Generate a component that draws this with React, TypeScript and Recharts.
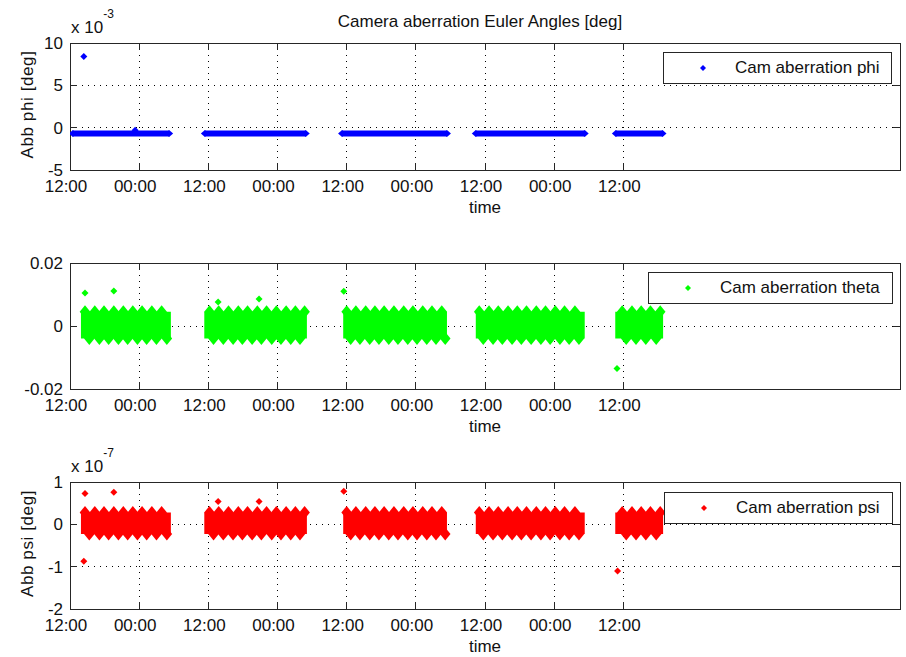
import React from 'react';
import { ComposedChart, Line, Area, Scatter, XAxis, YAxis, CartesianGrid, Legend, ReferenceArea } from 'recharts';

const FONT = '"Liberation Sans", Arial, Helvetica, sans-serif';
const AXIS = '#262626';
const TICK = 7;

// time axis, in hours after the first 12:00 tick
const timeTicks = [0, 12, 24, 36, 48, 60, 72, 84, 96];
const timeTickLabels = ['12:00', '00:00', '12:00', '00:00', '12:00', '00:00', '12:00', '00:00', '12:00'];
const timeDomain: [number, number] = [0, 144];

// phi, in units of 1e-3 deg
const phiTicks = [-5, 0, 5, 10];
const phiTickLabels = ['-5', '0', '5', '10'];
const phiPassStart = [0.5, 23.4, 47.2, 70.4, 94.7];
const phiPassEnd = [17.2, 40.9, 65.4, 89.3, 102.8];
const phiPassLevel = [-0.7, -0.7, -0.7, -0.7, -0.7];
const phiSpikeT = [2.4, 11.3];
const phiSpikeV = [8.4, -0.3];

// theta, in deg
const thetaTicks = [-0.02, 0, 0.02];
const thetaTickLabels = ['-0.02', '0', '0.02'];
const thetaPassStart = [1.9, 23.3, 47.4, 70.4, 94.6];
const thetaPassEnd = [17.5, 41.1, 65.4, 89.3, 102.9];
const thetaHigh = [0.0045, 0.0045, 0.0045, 0.0045, 0.0045];
const thetaLow = [-0.004, -0.004, -0.004, -0.004, -0.004];
const thetaSpikeT = [2.6, 7.6, 25.7, 32.8, 47.5, 94.9];
const thetaSpikeV = [0.0105, 0.0111, 0.0076, 0.0086, 0.011, -0.0135];

// psi, in units of 1e-7 deg
const psiTicks = [-2, -1, 0, 1];
const psiTickLabels = ['-2', '-1', '0', '1'];
const psiPassStart = [1.9, 23.3, 47.4, 70.4, 94.6];
const psiPassEnd = [17.5, 41.1, 65.4, 89.3, 102.9];
const psiHigh = [0.28, 0.28, 0.28, 0.28, 0.28];
const psiLow = [-0.23, -0.23, -0.23, -0.23, -0.23];
const psiSpikeT = [2.6, 7.6, 2.4, 25.7, 32.8, 47.5, 95.0];
const psiSpikeV = [0.73, 0.76, -0.87, 0.54, 0.54, 0.78, -1.1];

// orbit crests / troughs seen on the theta and psi bands (hours)
const crestT = [
  2.6, 4.3, 5.9, 7.6, 9.25, 10.9, 12.5, 14.2, 15.9,
  24.2, 25.8, 27.5, 29.2, 30.8, 32.5, 34.1, 35.8, 37.5, 39.1, 40.7,
  48.0, 49.6, 51.3, 52.9, 54.5, 56.2, 57.9, 59.5, 61.2, 62.8, 64.5,
  71.0, 72.7, 74.3, 76.0, 77.6, 79.2, 80.9, 82.5, 84.2, 85.8, 87.6,
  95.8, 97.5, 99.1, 100.7, 102.4,
];
const troughT = [
  3.35, 5.1, 6.7, 8.4, 10.0, 11.7, 13.3, 15.0, 16.8,
  24.9, 26.6, 28.3, 29.9, 31.6, 33.2, 35.0, 36.6, 38.3, 39.9,
  48.7, 50.3, 52.0, 53.6, 55.3, 56.9, 58.6, 60.2, 61.9, 63.5, 65.1,
  71.7, 73.4, 75.0, 76.7, 78.3, 80.0, 81.7, 83.3, 85.0, 86.6, 88.3,
  96.5, 98.2, 99.9, 101.7,
];

const passOf = (t: number, start: number[], end: number[]) => {
  const i = start.findIndex((s, k) => t >= s - 0.5 && t <= end[k] + 0.5);
  return i < 0 ? 0 : i;
};

const lineRows = (start: number[], end: number[], level: number[]) =>
  start.flatMap((s, i) => [
    { t: s, v: level[i] },
    { t: end[i], v: level[i] },
    { t: end[i] + 1, v: null },
  ]);

const bandRows = (start: number[], end: number[], lo: number[], hi: number[]) =>
  start.flatMap((s, i) => [
    { t: s, band: [lo[i], hi[i]] },
    { t: end[i], band: [lo[i], hi[i]] },
    { t: end[i] + 1, band: null },
  ]);

const points = (ts: number[], vs: number[]) => ts.map((t, i) => ({ t, v: vs[i] }));

const phiRows = lineRows(phiPassStart, phiPassEnd, phiPassLevel);
const phiSpikes = points(phiSpikeT, phiSpikeV);

const thetaRows = bandRows(thetaPassStart, thetaPassEnd, thetaLow, thetaHigh);
const thetaCrests = crestT.map((t) => ({ t, v: thetaHigh[passOf(t, thetaPassStart, thetaPassEnd)] }));
const thetaTroughs = troughT.map((t) => ({ t, v: thetaLow[passOf(t, thetaPassStart, thetaPassEnd)] }));
const thetaSpikes = points(thetaSpikeT, thetaSpikeV);

const psiRows = bandRows(psiPassStart, psiPassEnd, psiLow, psiHigh);
const psiCrests = crestT.map((t) => ({ t, v: psiHigh[passOf(t, psiPassStart, psiPassEnd)] }));
const psiTroughs = troughT.map((t) => ({ t, v: psiLow[passOf(t, psiPassStart, psiPassEnd)] }));
const psiSpikes = points(psiSpikeT, psiSpikeV);

const diamond = (hw: number, hh: number, color: string) => (props: any) => {
  const { cx, cy } = props;
  if (cx == null || cy == null || isNaN(cy)) return <g />;
  return (
    <polygon
      points={`${cx},${cy - hh} ${cx + hw},${cy} ${cx},${cy + hh} ${cx - hw},${cy}`}
      fill={color}
    />
  );
};

const BottomTick = (props: any) => {
  const { x, y, payload } = props;
  const label = timeTickLabels[timeTicks.indexOf(payload.value)];
  return (
    <g>
      <line x1={x} y1={y} x2={x} y2={y - TICK} stroke={AXIS} shapeRendering="crispEdges" />
      <text x={x - 4} y={y + 22} textAnchor="middle" fontSize={17} fontFamily={FONT} fill="#111">
        {label}
      </text>
    </g>
  );
};

const TopTick = (props: any) => {
  const { x, y } = props;
  return <line x1={x} y1={y} x2={x} y2={y + TICK} stroke={AXIS} shapeRendering="crispEdges" />;
};

const RightTick = (props: any) => {
  const { x, y } = props;
  return <line x1={x} y1={y} x2={x - TICK} y2={y} stroke={AXIS} shapeRendering="crispEdges" />;
};

const leftTick = (ticks: number[], labels: string[]) => (props: any) => {
  const { x, y, payload } = props;
  return (
    <g>
      <line x1={x} y1={y} x2={x + TICK} y2={y} stroke={AXIS} shapeRendering="crispEdges" />
      <text x={x - 7} y={y + 6} textAnchor="end" fontSize={17} fontFamily={FONT} fill="#111">
        {labels[ticks.indexOf(payload.value)]}
      </text>
    </g>
  );
};

const legendBox = (label: string, color: string) => () => (
  <div
    style={{
      boxSizing: 'border-box',
      height: 32,
      border: `1px solid ${AXIS}`,
      background: '#fff',
      position: 'relative',
      fontFamily: FONT,
      fontSize: 17,
      color: '#111',
    }}
  >
    <svg width={10} height={10} style={{ position: 'absolute', left: 34, top: 10 }}>
      <polygon points="5,2 8,5 5,8 2,5" fill={color} />
    </svg>
    <span style={{ position: 'absolute', left: 71, top: 6, lineHeight: '18px', whiteSpace: 'nowrap' }}>{label}</span>
  </div>
);

type PanelProps = {
  top: number;
  height: number;
  marginTop: number;
  axisHeight: number;
  data: any[];
  yDomain: [number, number];
  yTicks: number[];
  yTickLabels: string[];
  yLabel?: string;
  exponent?: string;
  title?: string;
  legendLabel: string;
  legendColor: string;
  legendLeft: number;
  legendWidth: number;
  children: React.ReactNode;
};

function Panel(p: PanelProps) {
  const topLabel = (props: any) => {
    const vb = props.viewBox;
    const y0 = vb.y + vb.height;
    return (
      <g fontFamily={FONT} fill="#111">
        {p.title && (
          <text x={vb.x + vb.width / 2 - 5} y={y0 - 16} textAnchor="middle" fontSize={17}>
            {p.title}
          </text>
        )}
        {p.exponent && (
          <text x={vb.x + 1} y={y0 - 10} fontSize={17}>
            x 10
            <tspan dy={-15} fontSize={12}>
              {p.exponent}
            </tspan>
          </text>
        )}
      </g>
    );
  };
  const timeLabel = (props: any) => {
    const vb = props.viewBox;
    return (
      <text x={vb.x + vb.width / 2} y={vb.y + 43} textAnchor="middle" fontSize={17} fontFamily={FONT} fill="#111">
        time
      </text>
    );
  };
  const yLabel = (props: any) => {
    const vb = props.viewBox;
    if (!p.yLabel) return <g />;
    const cy = vb.y + vb.height / 2 - 2;
    return (
      <text
        x={33}
        y={cy}
        transform={`rotate(-90, 33, ${cy})`}
        textAnchor="middle"
        fontSize={17}
        letterSpacing={0.6}
        fontFamily={FONT}
        fill="#111"
      >
        {p.yLabel}
      </text>
    );
  };

  const axisLine = { stroke: AXIS, strokeWidth: 1, shapeRendering: 'crispEdges' };

  return (
    <div style={{ position: 'absolute', left: 0, top: p.top }}>
      <ComposedChart
        width={906}
        height={p.height}
        data={p.data}
        margin={{ top: p.marginTop - 1, right: 5, bottom: 0, left: 0 }}
      >
        <CartesianGrid stroke="#000" strokeDasharray="1 5" shapeRendering="crispEdges" />
        <ReferenceArea
          x1={timeDomain[0]}
          x2={timeDomain[1]}
          y1={p.yDomain[0]}
          y2={p.yDomain[1]}
          ifOverflow="visible"
          stroke={AXIS}
          strokeWidth={1}
          fill="none"
          fillOpacity={0}
          shapeRendering="crispEdges"
        />
        <XAxis
          dataKey="t"
          type="number"
          domain={timeDomain}
          ticks={timeTicks}
          interval={0}
          allowDataOverflow
          height={p.axisHeight}
          tickSize={0}
          tickMargin={0}
          tickLine={false}
          axisLine={axisLine}
          tick={BottomTick}
          label={{ content: timeLabel }}
        />
        <XAxis
          xAxisId="top"
          orientation="top"
          dataKey="t"
          type="number"
          domain={timeDomain}
          ticks={timeTicks}
          interval={0}
          allowDataOverflow
          height={1}
          tickSize={0}
          tickMargin={0}
          tickLine={false}
          axisLine={axisLine}
          tick={TopTick}
          label={{ content: topLabel }}
        />
        <YAxis
          type="number"
          domain={p.yDomain}
          ticks={p.yTicks}
          interval={0}
          allowDataOverflow
          width={70}
          tickSize={0}
          tickMargin={0}
          tickLine={false}
          axisLine={axisLine}
          tick={leftTick(p.yTicks, p.yTickLabels)}
          label={{ content: yLabel }}
        />
        <YAxis
          yAxisId="right"
          orientation="right"
          type="number"
          domain={p.yDomain}
          ticks={p.yTicks}
          interval={0}
          allowDataOverflow
          width={1}
          tickSize={0}
          tickMargin={0}
          tickLine={false}
          axisLine={axisLine}
          tick={RightTick}
        />
        {p.children}
        <Legend
          layout="horizontal"
          verticalAlign="middle"
          align="center"
          content={legendBox(p.legendLabel, p.legendColor)}
          wrapperStyle={{ position: 'absolute', left: p.legendLeft, top: 52, width: p.legendWidth, height: 32 }}
        />
      </ComposedChart>
    </div>
  );
}

export default function App() {
  return (
    <div style={{ position: 'absolute', left: 0, top: 0, width: 906, height: 657, background: '#fff' }}>
      <Panel
        top={0}
        height={220}
        marginTop={43}
        axisHeight={50}
        data={phiRows}
        yDomain={[-5, 10]}
        yTicks={phiTicks}
        yTickLabels={phiTickLabels}
        yLabel="Abb phi [deg]"
        exponent="-3"
        title="Camera aberration Euler Angles [deg]"
        legendLabel="Cam aberration phi"
        legendColor="#0000ff"
        legendLeft={663}
        legendWidth={229}
      >
        <Line
          dataKey="v"
          stroke="#0000ff"
          strokeWidth={6}
          dot={diamond(4, 3.5, '#0000ff')}
          activeDot={false}
          connectNulls={false}
          isAnimationActive={false}
          legendType="none"
        />
        <Scatter data={phiSpikes} dataKey="v" shape={diamond(3.5, 3.5, '#0000ff')} isAnimationActive={false} legendType="none" />
      </Panel>
      <Panel
        top={220}
        height={220}
        marginTop={43}
        axisHeight={51}
        data={thetaRows}
        yDomain={[-0.02, 0.02]}
        yTicks={thetaTicks}
        yTickLabels={thetaTickLabels}
        legendLabel="Cam aberration theta"
        legendColor="#00ff00"
        legendLeft={648}
        legendWidth={245}
      >
        <Area
          dataKey="band"
          stroke="none"
          fill="#00ff00"
          fillOpacity={1}
          connectNulls={false}
          dot={false}
          activeDot={false}
          isAnimationActive={false}
          legendType="none"
        />
        <Scatter data={thetaCrests} dataKey="v" shape={diamond(5.3, 6.5, '#00ff00')} isAnimationActive={false} legendType="none" />
        <Scatter data={thetaTroughs} dataKey="v" shape={diamond(5.3, 6.5, '#00ff00')} isAnimationActive={false} legendType="none" />
        <Scatter data={thetaSpikes} dataKey="v" shape={diamond(3.5, 3.5, '#00ff00')} isAnimationActive={false} legendType="none" />
      </Panel>
      <Panel
        top={440}
        height={217}
        marginTop={42}
        axisHeight={48}
        data={psiRows}
        yDomain={[-2, 1]}
        yTicks={psiTicks}
        yTickLabels={psiTickLabels}
        yLabel="Abb psi [deg]"
        exponent="-7"
        legendLabel="Cam aberration psi"
        legendColor="#ff0000"
        legendLeft={664}
        legendWidth={229}
      >
        <Area
          dataKey="band"
          stroke="none"
          fill="#ff0000"
          fillOpacity={1}
          connectNulls={false}
          dot={false}
          activeDot={false}
          isAnimationActive={false}
          legendType="none"
        />
        <Scatter data={psiCrests} dataKey="v" shape={diamond(5.3, 6.5, '#ff0000')} isAnimationActive={false} legendType="none" />
        <Scatter data={psiTroughs} dataKey="v" shape={diamond(5.3, 6.5, '#ff0000')} isAnimationActive={false} legendType="none" />
        <Scatter data={psiSpikes} dataKey="v" shape={diamond(3.5, 3.5, '#ff0000')} isAnimationActive={false} legendType="none" />
      </Panel>
    </div>
  );
}
